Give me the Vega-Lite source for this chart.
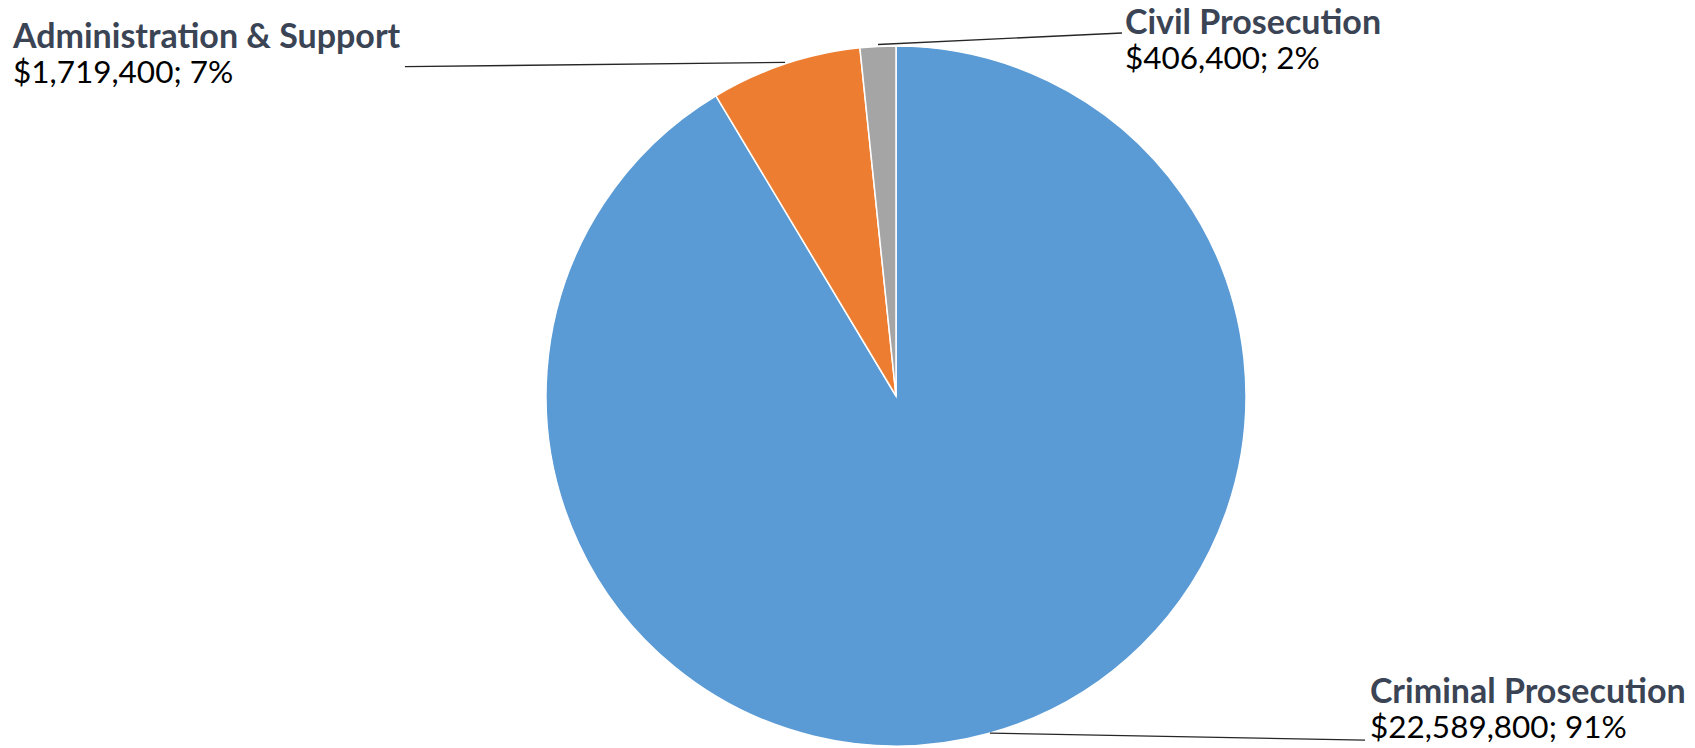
{
  "$schema": "https://vega.github.io/schema/vega-lite/v6.json",
  "width": 700,
  "height": 700,
  "autosize": {"type": "none"},
  "padding": {"left": 546, "top": 46, "right": 449, "bottom": 2},
  "background": "white",
  "config": {"view": {"stroke": null}},
  "data": {
    "values": [
      {"category": "Criminal Prosecution", "amount": 22589800, "label": "$22,589,800; 91%"},
      {"category": "Administration & Support", "amount": 1719400, "label": "$1,719,400; 7%"},
      {"category": "Civil Prosecution", "amount": 406400, "label": "$406,400; 2%"}
    ]
  },
  "layer": [
    {
      "mark": {"type": "arc", "outerRadius": 350, "stroke": "white", "strokeWidth": 1.5},
      "encoding": {
        "theta": {"field": "amount", "type": "quantitative", "stack": true},
        "order": {"field": "amount", "sort": "descending"},
        "color": {
          "field": "category",
          "type": "nominal",
          "scale": {
            "domain": ["Criminal Prosecution", "Administration & Support", "Civil Prosecution"],
            "range": ["#5B9BD5", "#ED7D31", "#A5A5A5"]
          },
          "legend": null
        }
      }
    },
    {
      "transform": [{"filter": "datum.category === 'Administration & Support'"}],
      "layer": [
        {
          "mark": {"type": "rule", "color": "#262626", "strokeWidth": 1.3},
          "encoding": {
            "x": {"datum": -1.403, "type": "quantitative", "scale": {"domain": [-1, 1], "nice": false}, "axis": null},
            "x2": {"datum": -0.317},
            "y": {"datum": 0.9409, "type": "quantitative", "scale": {"domain": [-1, 1], "nice": false}, "axis": null},
            "y2": {"datum": 0.9534}
          }
        },
        {
          "mark": {"type": "text", "align": "left", "baseline": "alphabetic", "font": "Lato", "fontSize": 34, "fontWeight": "bold", "color": "#3A4454"},
          "encoding": {
            "x": {"datum": -2.523, "type": "quantitative", "scale": {"domain": [-1, 1], "nice": false}, "axis": null},
            "y": {"datum": 0.9943, "type": "quantitative", "scale": {"domain": [-1, 1], "nice": false}, "axis": null},
            "text": {"field": "category"}
          }
        },
        {
          "mark": {"type": "text", "align": "left", "baseline": "alphabetic", "font": "Lato", "fontSize": 31.5, "color": "#000000"},
          "encoding": {
            "x": {"datum": -2.523, "type": "quantitative", "scale": {"domain": [-1, 1], "nice": false}, "axis": null},
            "y": {"datum": 0.8943, "type": "quantitative", "scale": {"domain": [-1, 1], "nice": false}, "axis": null},
            "text": {"field": "label"}
          }
        }
      ]
    },
    {
      "transform": [{"filter": "datum.category === 'Civil Prosecution'"}],
      "layer": [
        {
          "mark": {"type": "rule", "color": "#262626", "strokeWidth": 1.3},
          "encoding": {
            "x": {"datum": 0.6457, "type": "quantitative", "scale": {"domain": [-1, 1], "nice": false}, "axis": null},
            "x2": {"datum": -0.0514},
            "y": {"datum": 1.0371, "type": "quantitative", "scale": {"domain": [-1, 1], "nice": false}, "axis": null},
            "y2": {"datum": 1.0043}
          }
        },
        {
          "mark": {"type": "text", "align": "left", "baseline": "alphabetic", "font": "Lato", "fontSize": 34, "fontWeight": "bold", "color": "#3A4454"},
          "encoding": {
            "x": {"datum": 0.654, "type": "quantitative", "scale": {"domain": [-1, 1], "nice": false}, "axis": null},
            "y": {"datum": 1.0343, "type": "quantitative", "scale": {"domain": [-1, 1], "nice": false}, "axis": null},
            "text": {"field": "category"}
          }
        },
        {
          "mark": {"type": "text", "align": "left", "baseline": "alphabetic", "font": "Lato", "fontSize": 31.5, "color": "#000000"},
          "encoding": {
            "x": {"datum": 0.654, "type": "quantitative", "scale": {"domain": [-1, 1], "nice": false}, "axis": null},
            "y": {"datum": 0.9343, "type": "quantitative", "scale": {"domain": [-1, 1], "nice": false}, "axis": null},
            "text": {"field": "label"}
          }
        }
      ]
    },
    {
      "transform": [{"filter": "datum.category === 'Criminal Prosecution'"}],
      "layer": [
        {
          "mark": {"type": "rule", "color": "#262626", "strokeWidth": 1.3},
          "encoding": {
            "x": {"datum": 1.34, "type": "quantitative", "scale": {"domain": [-1, 1], "nice": false}, "axis": null},
            "x2": {"datum": 0.2686},
            "y": {"datum": -0.983, "type": "quantitative", "scale": {"domain": [-1, 1], "nice": false}, "axis": null},
            "y2": {"datum": -0.963}
          }
        },
        {
          "mark": {"type": "text", "align": "left", "baseline": "alphabetic", "font": "Lato", "fontSize": 34, "fontWeight": "bold", "color": "#3A4454"},
          "encoding": {
            "x": {"datum": 1.354, "type": "quantitative", "scale": {"domain": [-1, 1], "nice": false}, "axis": null},
            "y": {"datum": -0.877, "type": "quantitative", "scale": {"domain": [-1, 1], "nice": false}, "axis": null},
            "text": {"field": "category"}
          }
        },
        {
          "mark": {"type": "text", "align": "left", "baseline": "alphabetic", "font": "Lato", "fontSize": 31.5, "color": "#000000"},
          "encoding": {
            "x": {"datum": 1.354, "type": "quantitative", "scale": {"domain": [-1, 1], "nice": false}, "axis": null},
            "y": {"datum": -0.977, "type": "quantitative", "scale": {"domain": [-1, 1], "nice": false}, "axis": null},
            "text": {"field": "label"}
          }
        }
      ]
    }
  ]
}
